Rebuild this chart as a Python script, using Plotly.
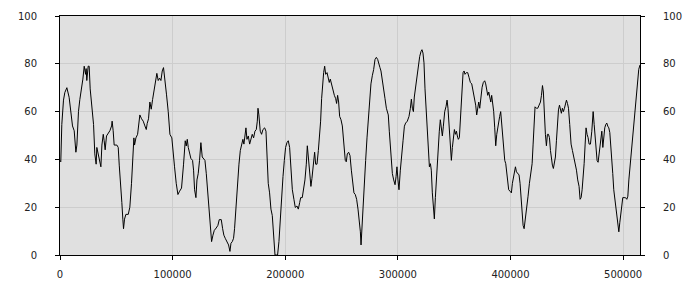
import plotly.graph_objects as go

# x in thousands, y values
x_k = [0, 0.7, 1.6, 3.1, 4.3, 6.1, 8.1, 9.6, 11.1, 12.6, 14.1, 15.0, 16.4, 17.6, 19.1, 20.3, 21.5, 22.7, 23.2, 23.8,
       25.0, 25.9, 26.8, 28.3, 29.8, 30.9, 32.1, 32.7, 33.9, 35.1, 36.3, 37.2, 38.4, 39.2, 40.1, 41.3, 42.8, 44.3, 45.8, 46.3,
       47.2, 48.1, 50.5, 51.7, 52.6, 54.0, 54.9, 55.8, 56.4, 57.3, 58.5, 60.6, 62.0, 63.5, 64.7, 65.6, 66.2, 67.4, 68.9, 70.0,
       70.9, 72.4, 73.9, 75.4, 76.6, 77.4, 78.6, 79.8, 81.0, 82.2, 83.7, 84.8, 86.0, 87.2, 88.4, 89.6, 90.8, 91.9, 93.1, 94.6,
       96.1, 97.6, 99.3, 100.5, 101.7, 103.2, 104.7, 106.2, 107.9, 109.7, 111.2, 112.1, 113.0, 113.9, 115.0, 116.2, 117.7, 118.6,
       119.5, 120.7, 121.6, 122.7, 123.9, 125.1, 126.3, 127.5, 128.7, 129.9, 131.0, 132.2, 133.4, 134.6, 135.8, 137.0, 138.7, 140.2,
       141.4, 143.2, 144.4, 145.5, 146.7, 148.2, 149.7, 150.9, 151.8, 153.0, 154.1, 155.0, 156.2, 157.4, 158.9, 160.1, 161.2, 162.4,
       163.3, 164.2, 165.1, 166.0, 167.2, 168.4, 169.5, 170.7, 171.9, 173.1, 174.3, 175.2, 175.8, 176.6, 177.8, 179.0, 180.2, 181.7,
       182.9, 183.7, 184.9, 186.1, 187.3, 188.5, 189.7, 190.9, 192.0, 193.2, 194.4, 195.6, 196.8, 198.0, 199.2, 200.3, 201.5, 202.7,
       203.9, 205.1, 206.3, 207.7, 208.9, 210.4, 211.6, 212.8, 213.7, 215.1, 216.3, 217.5, 218.7, 219.6, 220.5, 221.7, 222.8, 223.7,
       224.9, 226.1, 227.0, 228.2, 229.4, 230.5, 231.4, 232.3, 233.2, 234.1, 235.0, 235.9, 237.1, 237.9, 239.1, 240.0, 241.2, 242.4,
       243.6, 244.8, 245.6, 246.5, 247.4, 248.3, 249.5, 250.7, 251.6, 252.5, 253.3, 254.2, 255.1, 256.3, 257.5, 258.7, 259.9, 261.0,
       262.2, 263.4, 264.6, 265.8, 266.7, 267.3, 268.1, 269.0, 270.2, 271.4, 272.6, 273.8, 275.0, 276.1, 277.3, 278.5, 279.7, 280.9,
       282.1, 283.2, 284.1, 285.0, 286.2, 287.4, 288.6, 289.8, 290.7, 291.5, 292.4, 293.3, 294.2, 295.1, 296.3, 297.5, 298.4, 299.2,
       300.1, 301.0, 302.2, 303.4, 304.6, 305.8, 306.9, 308.4, 309.9, 311.1, 312.0, 312.9, 313.8, 314.6, 315.8, 317.0, 318.2, 319.4,
       320.6, 321.4, 322.3, 323.2, 324.1, 325.3, 326.2, 327.1, 328.0, 328.9, 329.7, 330.6, 331.5, 332.4, 333.3, 334.2, 335.1, 336.0,
       336.8, 337.7, 338.6, 339.5, 340.4, 341.6, 342.8, 343.7, 344.5, 345.4, 346.3, 347.5, 348.4, 349.3, 350.2, 351.1, 352.0, 352.8,
       353.7, 354.6, 355.8, 357.0, 357.9, 358.8, 359.6, 360.8, 362.0, 363.2, 364.4, 365.6, 366.8, 367.9, 369.1, 370.0, 370.9, 371.8,
       372.7, 373.6, 374.8, 375.9, 377.1, 378.0, 378.9, 379.8, 380.7, 381.6, 382.5, 383.3, 384.2, 385.1, 386.0, 386.9, 387.8, 388.7,
       389.6, 390.4, 391.3, 392.2, 393.1, 394.0, 394.9, 395.8, 396.7, 397.6, 398.4, 399.6, 400.8, 401.7, 402.6, 403.5, 404.4, 405.3,
       406.4, 407.6, 408.5, 409.4, 410.3, 411.2, 412.1, 413.3, 414.4, 415.6, 416.8, 418.0, 419.2, 420.1, 421.0, 421.8, 423.0, 424.2,
       425.4, 426.6, 427.5, 428.4, 429.2, 430.1, 431.0, 431.9, 432.8, 433.7, 434.6, 435.5, 436.4, 437.2, 438.1, 439.0, 439.9, 440.8,
       441.7, 442.6, 443.5, 444.3, 445.2, 446.1, 447.0, 447.9, 448.8, 449.7, 450.6, 451.5, 452.6, 453.8, 455.0, 456.2, 457.4, 458.6,
       459.7, 460.9, 461.8, 462.7, 463.6, 464.5, 465.4, 466.3, 467.1, 468.0, 468.9, 469.8, 471.0, 472.2, 473.4, 474.3, 475.1, 476.0,
       476.9, 477.8, 478.7, 479.6, 480.5, 481.1, 482.0, 482.8, 483.7, 484.6, 485.5, 486.4, 487.3, 488.2, 489.1, 490.0, 490.8, 491.7,
       492.6, 493.5, 494.4, 495.3, 496.2, 497.1, 497.9, 498.8, 499.7, 500.9, 502.1, 503.3, 504.2, 505.1, 505.9, 506.8, 507.7, 508.6,
       509.5, 510.4, 511.3, 512.2, 513.1, 513.9, 515.0]

values = [39.6, 39, 54.6, 64.8, 68, 70, 66, 61, 54, 52, 43, 46, 60, 65, 69.5, 73.6, 79, 75.6, 78, 73,
          79, 79, 69.5, 61, 54.6, 42.3, 38, 45, 42, 39.6, 36.9, 46, 50.5, 47.8, 44, 49.8, 51, 52, 54, 56,
          52, 46, 46, 45, 37.6, 30, 22, 15, 11, 15, 17, 17, 20, 30, 39.6, 49, 46, 49, 50.5, 54,
          58.6, 57, 56, 54, 52.5, 55, 57, 64, 61, 65, 69, 72, 76, 73, 74, 73, 77, 78.4, 74, 67,
          60, 50.5, 49, 41, 36.9, 30, 25.3, 26.7, 28, 38, 47.8, 45.6, 48.4, 45, 42.3, 40.4, 39.6, 35.5,
          27.3, 24, 31.4, 34, 39.6, 47, 41, 40.4, 39.6, 34, 27.3, 19.2, 12.4, 5.6, 8.3, 10.3, 11.3, 12.4,
          14.8, 14.8, 11, 8.3, 7, 5.6, 4.2, 1.5, 4.9, 5.6, 7, 11, 19.2, 30, 38, 43.7, 46.4, 48.4,
          46.4, 49.8, 53.2, 48.4, 49.8, 46.4, 49, 50.5, 49, 51.8, 52.5, 56, 61.4, 58.6, 51.8, 50.5, 52.5, 53.2,
          51.8, 41, 30, 26, 19.2, 16.5, 8.3, 0, 0, 0, 5.6, 16.5, 24.6, 32.8, 39.6, 45, 47, 47.8,
          45, 35.5, 27.3, 23.3, 19.9, 20.5, 19.2, 21.9, 24, 24, 27.3, 31.4, 38, 45.7, 41, 35.5, 28.7, 32,
          36.9, 43, 38, 38, 43.7, 49, 56, 65.4, 72.2, 76.3, 79, 75.6, 76.3, 74.3, 72.2, 73.6, 70.9, 68.8,
          66.8, 65.4, 63.4, 66.8, 64, 58, 56.6, 54, 49, 45, 39.6, 39, 42.3, 43, 41.6, 35.5, 28.7, 26,
          25.3, 23.3, 19.2, 15, 9.7, 4.2, 12.4, 20.5, 28.7, 39.6, 49, 57.3, 64, 71.6, 75, 77.6, 81.8, 82.7,
          81.8, 79, 78.4, 77, 73.6, 69.5, 65.4, 61.4, 60, 58.6, 51.8, 46.4, 41, 34.1, 31.4, 29.4, 32.8, 36.9,
          31.4, 27.3, 35.5, 43.7, 47.8, 53.9, 55.2, 56, 58, 61.4, 65.2, 61.4, 60, 66.1, 70.2, 76.3, 79, 83.1,
          85.2, 85.9, 84.5, 80.4, 69.5, 60, 50.5, 41, 36.9, 38.2, 35.5, 26, 19.2, 15.1, 24, 31.4, 41, 48.4,
          51.8, 56.6, 52.2, 49.8, 53.9, 60, 62.2, 64.8, 61.4, 54.6, 45, 39.6, 45, 49.1, 52.5, 50.5, 51.8, 49.8,
          48.4, 49.1, 60, 68.2, 76.3, 77, 75.6, 76.3, 76.3, 74.3, 72.2, 71.6, 68.8, 65.4, 62.7, 58.6, 61.4, 64,
          61.4, 65.4, 70.2, 72.2, 72.9, 71.6, 69.5, 66.8, 68.2, 66.1, 64, 66.8, 64, 60, 53.2, 45.7, 50.5, 53.9,
          56, 58, 60, 54.6, 47.8, 43.7, 39.6, 38.2, 34.1, 31.4, 27.3, 26.7, 26, 30, 32.8, 35.5, 36.9, 34.8,
          34.1, 33.5, 30, 23.3, 16.5, 12.4, 11, 15, 19.2, 24.6, 30, 34.1, 38.2, 46.4, 55.9, 62, 61.4, 61.4,
          62.7, 64, 66.8, 70.9, 68.2, 57.3, 50.5, 45.7, 50.5, 50.5, 49.1, 43.7, 39.6, 37.6, 36.2, 38.2, 41, 47.8,
          57.3, 60.7, 62.7, 60.7, 59.3, 61.4, 60, 61.4, 62.7, 64.8, 63.4, 61.4, 54.6, 46.4, 43.7, 41, 38.9, 35.5,
          31.4, 28.7, 23.3, 24, 27.3, 31.4, 38.2, 46.4, 53.2, 50.5, 49.1, 46.4, 46.4, 51.8, 60, 54.6, 49.1, 42.9,
          39.5, 38.8, 42.9, 47.1, 50.5, 51.8, 45, 49.1, 53.2, 54.6, 55.2, 53.9, 53.2, 51.2, 46.4, 39.6, 34.1, 27.3,
          23.3, 20.5, 16.5, 11, 9.7, 13.7, 17.8, 21.9, 24, 24, 24, 23.3, 24.6, 31.4, 35.5, 41, 46.4, 50.5,
          55.9, 60, 65.4, 69.5, 73.6, 77.7, 79.5]

x_vals = [v * 1000 for v in x_k]

x_ticks = [0, 100000, 200000, 300000, 400000, 500000]
y_ticks = [0, 20, 40, 60, 80, 100]

font = dict(family="DejaVu Sans", size=10, color="#222222")
grid = "#cdcdcd"

fig = go.Figure()
fig.add_trace(go.Scatter(x=x_vals, y=values, mode="lines",
                         line=dict(color="black", width=1), hoverinfo="skip", showlegend=False))
fig.add_trace(go.Scatter(x=x_vals, y=values, mode="lines", yaxis="y2",
                         line=dict(color="rgba(0,0,0,0)", width=0), hoverinfo="skip", showlegend=False))

fig.update_layout(
    width=700, height=300,
    margin=dict(l=60, r=60, t=10, b=45),
    paper_bgcolor="white", plot_bgcolor="#e0e0e0",
    font=font,
    xaxis=dict(range=[0, 515000], tickvals=x_ticks, ticktext=[str(v) for v in x_ticks],
               showgrid=True, gridcolor=grid, gridwidth=1, zeroline=False,
               showline=True, linecolor="black", linewidth=1, mirror=True,
               ticks="outside", ticklen=4, tickcolor="black", ticklabelstandoff=6,
               tickfont=font),
    yaxis=dict(range=[0, 100], tickvals=y_ticks, showgrid=True, gridcolor=grid, gridwidth=1,
               zeroline=False, showline=True, linecolor="black", linewidth=1,
               ticks="outside", ticklen=4, tickcolor="black", ticklabelstandoff=16,
               tickfont=font),
    yaxis2=dict(range=[0, 100], tickvals=y_ticks, overlaying="y", side="right", showgrid=False,
                zeroline=False, showline=True, linecolor="black", linewidth=1,
                ticks="outside", ticklen=4, tickcolor="black", ticklabelstandoff=16,
                tickfont=font),
)

fig.write_html("out.html")
